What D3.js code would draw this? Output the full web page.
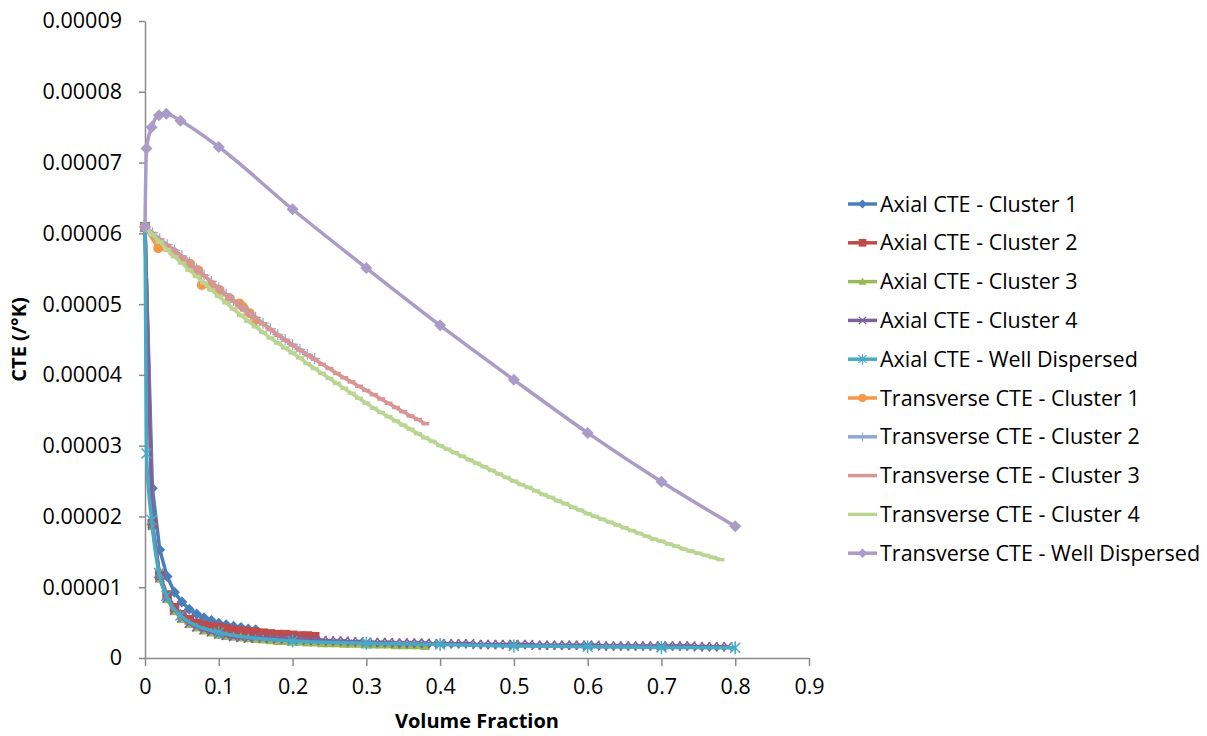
<!DOCTYPE html>
<html>
<head>
<meta charset="utf-8">
<script src="https://cdn.jsdelivr.net/npm/d3@7/dist/d3.min.js"></script>
<style>
  body { margin: 0; background: #fff; }
  text { font-family: "Open Sans", sans-serif; }
</style>
</head>
<body>
<div id="vis"></div>
<script>
// all CTE values below are in units of 1e-5 /°K
var xTicks = [0, 0.1, 0.2, 0.3, 0.4, 0.5, 0.6, 0.7, 0.8, 0.9];
var xTickLabels = ["0", "0.1", "0.2", "0.3", "0.4", "0.5", "0.6", "0.7", "0.8", "0.9"];
var yTicks = [0, 1, 2, 3, 4, 5, 6, 7, 8, 9];
var yTickLabels = ["0", "0.00001", "0.00002", "0.00003", "0.00004", "0.00005", "0.00006", "0.00007", "0.00008", "0.00009"];

// volume fraction grid shared by the cluster runs
var vf = [0, 0.01, 0.02, 0.03, 0.04, 0.05, 0.06, 0.07, 0.08, 0.09,
  0.1, 0.11, 0.12, 0.13, 0.14, 0.15, 0.16, 0.17, 0.18, 0.19,
  0.2, 0.21, 0.22, 0.23, 0.24, 0.25, 0.26, 0.27, 0.28, 0.29,
  0.3, 0.31, 0.32, 0.33, 0.34, 0.35, 0.36, 0.37, 0.38, 0.39,
  0.4, 0.41, 0.42, 0.43, 0.44, 0.45, 0.46, 0.47, 0.48, 0.49,
  0.5, 0.51, 0.52, 0.53, 0.54, 0.55, 0.56, 0.57, 0.58, 0.59,
  0.6, 0.61, 0.62, 0.63, 0.64, 0.65, 0.66, 0.67, 0.68, 0.69,
  0.7, 0.71, 0.72, 0.73, 0.74, 0.75, 0.76, 0.77, 0.78, 0.79, 0.8];
// well dispersed runs
var wdVf = [0, 0.002, 0.009, 0.019, 0.029, 0.048, 0.1, 0.2, 0.3, 0.4, 0.5, 0.6, 0.7, 0.8];
// transverse cluster 1 run
var t1Vf = [0, 0.018, 0.038, 0.052, 0.061, 0.072, 0.077, 0.09, 0.101, 0.115, 0.128, 0.133, 0.142, 0.149];

var axialC1 = [6.09, 2.40, 1.53, 1.15, 0.93, 0.79, 0.69, 0.62, 0.57, 0.53, 0.49, 0.47, 0.45, 0.43, 0.41, 0.40];
var axialC2 = [6.09, 1.90, 1.17, 0.89, 0.71, 0.61, 0.54, 0.49, 0.46, 0.44, 0.43, 0.41, 0.39, 0.38, 0.37,
  0.36, 0.35, 0.34, 0.33, 0.33, 0.32, 0.31, 0.31, 0.30];
var axialC3 = [6.09, 1.86, 1.12, 0.83, 0.66, 0.55, 0.48, 0.43, 0.39, 0.36, 0.33, 0.31, 0.30, 0.29, 0.28,
  0.27, 0.26, 0.25, 0.24, 0.24, 0.23, 0.23, 0.22, 0.22, 0.21, 0.21, 0.21, 0.20, 0.20, 0.20,
  0.19, 0.19, 0.19, 0.19, 0.18, 0.18, 0.18, 0.18, 0.17];
var axialC4 = [6.09, 1.88, 1.14, 0.85, 0.68, 0.57, 0.49, 0.44, 0.40, 0.37, 0.34, 0.32, 0.30, 0.29, 0.28,
  0.29, 0.28, 0.28, 0.27, 0.27, 0.26, 0.26, 0.25, 0.25, 0.25, 0.24, 0.24, 0.24, 0.23, 0.23,
  0.22, 0.22, 0.22, 0.22, 0.21, 0.21, 0.21, 0.21, 0.21, 0.20, 0.20, 0.20, 0.20, 0.20, 0.20,
  0.19, 0.19, 0.19, 0.19, 0.19, 0.19, 0.19, 0.19, 0.18, 0.18, 0.18, 0.18, 0.18, 0.18, 0.18,
  0.18, 0.18, 0.17, 0.17, 0.17, 0.17, 0.17, 0.17, 0.17, 0.17, 0.17, 0.17, 0.17, 0.17, 0.17,
  0.16, 0.16, 0.16, 0.16, 0.16];
var axialWD = [6.09, 2.89, 1.95, 1.20, 0.88, 0.60, 0.36, 0.24, 0.21, 0.19, 0.17, 0.16, 0.15, 0.145];

var transC1 = [6.09, 5.79, 5.74, 5.62, 5.57, 5.48, 5.27, 5.24, 5.20, 5.08, 5.01, 4.96, 4.87, 4.77];
var transC2 = [6.09, 6.01, 5.92, 5.84, 5.76, 5.68, 5.59, 5.50, 5.41, 5.32, 5.23, 5.14, 5.05, 4.97,
  4.89, 4.81, 4.73, 4.65, 4.57, 4.50, 4.43, 4.36, 4.29, 4.23];
var transC3 = [6.09, 6.00, 5.91, 5.83, 5.75, 5.67, 5.58, 5.49, 5.40, 5.31, 5.22, 5.13, 5.04, 4.96,
  4.88, 4.80, 4.72, 4.64, 4.56, 4.49, 4.42, 4.35, 4.28, 4.22, 4.15, 4.09, 4.02, 3.96, 3.90,
  3.84, 3.78, 3.72, 3.66, 3.60, 3.54, 3.48, 3.42, 3.37, 3.31];
var transC4 = [6.09, 5.98, 5.88, 5.77, 5.67, 5.58, 5.48, 5.39, 5.30, 5.20, 5.11, 5.02, 4.93, 4.84,
  4.76, 4.68, 4.60, 4.52, 4.45, 4.38, 4.31, 4.24, 4.16, 4.09, 4.02, 3.95, 3.88, 3.81, 3.74,
  3.67, 3.60, 3.53, 3.47, 3.41, 3.35, 3.29, 3.23, 3.17, 3.11, 3.06, 3.00, 2.95, 2.90, 2.85,
  2.80, 2.75, 2.70, 2.65, 2.60, 2.55, 2.50, 2.45, 2.41, 2.36, 2.31, 2.27, 2.22, 2.18, 2.13,
  2.09, 2.04, 2.00, 1.96, 1.92, 1.88, 1.84, 1.80, 1.76, 1.72, 1.68, 1.65, 1.61, 1.58, 1.54,
  1.51, 1.48, 1.45, 1.42, 1.39];
var transWD = [6.09, 7.20, 7.50, 7.67, 7.69, 7.59, 7.22, 6.34, 5.51, 4.70, 3.93, 3.18, 2.49, 1.86];

var seriesNames = ["Axial CTE - Cluster 1", "Axial CTE - Cluster 2", "Axial CTE - Cluster 3",
  "Axial CTE - Cluster 4", "Axial CTE - Well Dispersed", "Transverse CTE - Cluster 1",
  "Transverse CTE - Cluster 2", "Transverse CTE - Cluster 3", "Transverse CTE - Cluster 4",
  "Transverse CTE - Well Dispersed"];
var seriesColors = ["#4a7ebb", "#be4b48", "#98b954", "#7d60a0", "#46aac5",
  "#f79646", "#8fa9d6", "#d99694", "#bad592", "#aa9bc8"];
var seriesMarkers = ["diamond", "square", "triangle", "x", "star", "circle", "plus", "dash", "dash", "diamondL"];

function zipXY(xs, ys) { return ys.map(function(v, i) { return [xs[i], v]; }); }

var seriesData = [
  zipXY(vf, axialC1), zipXY(vf, axialC2), zipXY(vf, axialC3), zipXY(vf, axialC4), zipXY(wdVf, axialWD),
  zipXY(t1Vf, transC1), zipXY(vf, transC2), zipXY(vf, transC3), zipXY(vf, transC4), zipXY(wdVf, transWD)
];

var width = 1207, height = 736;
var margin = {top: 21, right: 398, bottom: 78, left: 145};

var svg = d3.select("#vis").append("svg")
  .attr("width", width)
  .attr("height", height);

var xScale = d3.scaleLinear().domain([0, 0.9]).range([margin.left, width - margin.right]);
var yScale = d3.scaleLinear().domain([0, 9]).range([height - margin.bottom, margin.top]);

var axisColor = "#8a8a8a";

var xAxis = svg.append("g")
  .attr("transform", "translate(0," + (height - margin.bottom) + ")")
  .call(d3.axisBottom(xScale).tickValues(xTicks)
    .tickFormat(function(d, i) { return xTickLabels[i]; })
    .tickSize(8).tickSizeOuter(0).tickPadding(13));

var yAxis = svg.append("g")
  .attr("transform", "translate(" + margin.left + ",0)")
  .call(d3.axisLeft(yScale).tickValues(yTicks)
    .tickFormat(function(d, i) { return yTickLabels[i]; })
    .tickSize(6).tickSizeOuter(0).tickPadding(17));

[xAxis, yAxis].forEach(function(a) {
  a.select(".domain").attr("stroke", axisColor).attr("stroke-width", 1.5);
  a.selectAll(".tick line").attr("stroke", axisColor).attr("stroke-width", 1.5);
  a.selectAll(".tick text").attr("fill", "#000").style("font-size", "21.5px")
    .style("font-family", "'Open Sans', sans-serif");
});

// axis titles
svg.append("text")
  .attr("x", (xScale(0) + xScale(0.9)) / 2)
  .attr("y", 721)
  .attr("dy", "0.35em")
  .attr("text-anchor", "middle")
  .style("font-size", "20px").style("font-weight", "bold")
  .text("Volume Fraction");

svg.append("text")
  .attr("transform", "translate(26," + (yScale(0) + yScale(9)) / 2 + ") rotate(-90)")
  .attr("text-anchor", "middle")
  .style("font-size", "20px").style("font-weight", "bold")
  .text("CTE (/°K)");

function markerPath(type) {
  var s;
  switch (type) {
    case "diamond": s = 5.5; return "M0," + -s + "L" + s + ",0L0," + s + "L" + -s + ",0Z";
    case "diamondL": s = 6; return "M0," + -s + "L" + s + ",0L0," + s + "L" + -s + ",0Z";
    case "square": s = 4.8; return "M" + -s + "," + -s + "h" + 2 * s + "v" + 2 * s + "h" + -2 * s + "Z";
    case "triangle": s = 5; return "M0," + -s + "L" + s + "," + s * 0.8 + "L" + -s + "," + s * 0.8 + "Z";
    case "circle": s = 5; return "M" + -s + ",0a" + s + "," + s + " 0 1,0 " + 2 * s + ",0a" + s + "," + s + " 0 1,0 " + -2 * s + ",0";
    case "x": s = 4.5; return "M" + -s + "," + -s + "L" + s + "," + s + "M" + -s + "," + s + "L" + s + "," + -s;
    case "star": s = 5; return "M" + -s + "," + -s + "L" + s + "," + s + "M" + -s + "," + s + "L" + s + "," + -s + "M0," + -s * 1.3 + "V" + s * 1.3;
    case "plus": s = 5.5; return "M" + -s + ",0H" + s + "M0," + -s + "V" + s;
    case "dash": s = 4; return "M" + -s + ",0H" + s;
  }
}
var filledMarkers = {diamond: true, diamondL: true, square: true, triangle: true, circle: true};

var line = d3.line()
  .x(function(d) { return xScale(d[0]); })
  .y(function(d) { return yScale(d[1]); });

var plot = svg.append("g");

seriesData.forEach(function(data, k) {
  var color = seriesColors[k];
  var m = seriesMarkers[k];
  var g = plot.append("g");
  g.append("path")
    .datum(data)
    .attr("d", line.curve(m === "star" || m === "diamondL" ? d3.curveMonotoneX : d3.curveLinear))
    .attr("fill", "none")
    .attr("stroke", color)
    .attr("stroke-width", 3.5)
    .attr("stroke-linejoin", "round");
  g.selectAll(".mk")
    .data(data)
    .enter().append("path")
    .attr("transform", function(d) { return "translate(" + xScale(d[0]) + "," + yScale(d[1]) + ")"; })
    .attr("d", markerPath(m))
    .attr("fill", filledMarkers[m] ? color : "none")
    .attr("stroke", color)
    .attr("stroke-width", filledMarkers[m] ? 0 : (m === "plus" ? 1.2 : (m === "dash" ? 3.5 : 1.5)));
});

// legend
var legend = svg.append("g").attr("transform", "translate(848,204)");
seriesNames.forEach(function(name, k) {
  var row = legend.append("g").attr("transform", "translate(0," + k * 38.8 + ")");
  row.append("line").attr("x1", 0).attr("x2", 29).attr("y1", 0).attr("y2", 0)
    .attr("stroke", seriesColors[k]).attr("stroke-width", 3.5);
  var m = seriesMarkers[k];
  if (m !== "dash") {
    row.append("path")
      .attr("transform", "translate(14.5,0) scale(0.8)")
      .attr("d", markerPath(m))
      .attr("fill", filledMarkers[m] ? seriesColors[k] : "none")
      .attr("stroke", seriesColors[k])
      .attr("stroke-width", filledMarkers[m] ? 0 : 1.5);
  }
  row.append("text")
    .attr("x", 32)
    .attr("y", 0)
    .attr("dy", "0.35em")
    .style("font-size", "21.5px")
    .text(name);
});
</script>
</body>
</html>
